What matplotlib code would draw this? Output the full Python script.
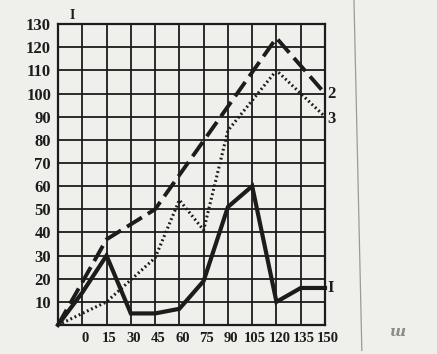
import matplotlib.pyplot as plt
import matplotlib.transforms as mtransforms
from matplotlib.lines import Line2D

# grid positions: first column is the origin, the printed labels start one column later
x_ticks = [-15, 0, 15, 30, 45, 60, 75, 90, 105, 120, 135, 150]
x_labels = ['', '0', '15', '30', '45', '60', '75', '90', '105', '120', '135', '150']
y_ticks = list(range(0, 140, 10))

# curve 1 (solid)
x1 = [-15, 0, 15, 30, 45, 60, 75, 90, 105, 120, 135, 150]
y1 = [0, 14, 30, 5, 5, 7, 19, 51, 60, 10, 16, 16]
# curve 2 (dashed)
x2 = [-15, 15, 45, 120, 150]
y2 = [0, 37, 50, 124, 100]
# curve 3 (dotted)
x3 = [-15, 15, 45, 60, 75, 90, 120, 150]
y3 = [0, 10, 29, 54, 41, 84, 110, 90]

ink = '#1c1c1c'
paper = '#efefec'

plt.rcParams['font.family'] = ['Liberation Serif', 'DejaVu Serif']
plt.rcParams['font.weight'] = 'bold'

fig = plt.figure(figsize=(4.37, 3.54), dpi=100, facecolor=paper)
ax = fig.add_axes([0.1327, 0.0819, 0.611, 0.850])
ax.set_facecolor(paper)

ax.set_xlim(-15, 150)
ax.set_ylim(0, 130)
ax.set_xticks(x_ticks)
ax.set_xticklabels(x_labels)
ax.set_yticks(y_ticks)
ax.set_yticklabels([''] + [str(v) for v in y_ticks[1:]])
ax.tick_params(length=0, labelsize=12, colors=ink, pad=5)
ax.tick_params(axis='x', labelsize=10.5)
ax.grid(True, color=ink, linewidth=1.3)
for s in ax.spines.values():
    s.set_color(ink)
    s.set_linewidth(1.6)

# printed labels sit a little to the right of their grid lines
shift = mtransforms.ScaledTranslation(3 / 100, 0, fig.dpi_scale_trans)
for lbl in ax.get_xticklabels():
    lbl.set_transform(lbl.get_transform() + shift)

ax.plot(x1, y1, color=ink, linewidth=3, solid_joinstyle='miter', clip_on=False)
ax.plot(x2, y2, color=ink, linewidth=2.8, dashes=(4.5, 1.8), clip_on=False)
ax.plot(x3, y3, color=ink, linewidth=2.2, linestyle=(0, (0.6, 0.9)), clip_on=False)

ax.text(151.5, 100, '2', fontsize=12, color=ink, va='center', ha='left')
ax.text(151.5, 89, '3', fontsize=12, color=ink, va='center', ha='left')
ax.text(151.5, 16, 'I', fontsize=12, color=ink, va='center', ha='left')
ax.text(-8, 131, 'I', fontsize=10, color=ink, va='bottom', ha='left')

# page edge and a stray pencil mark from the scan
fig.add_artist(Line2D([0.81, 0.828], [1.0, 0.01], transform=fig.transFigure,
                      color='#9a9a98', linewidth=0.9))
fig.text(0.89, 0.05, 'ш', fontsize=11, color='#8c8c8a', style='italic',
         family=['DejaVu Serif'])

fig.savefig('out.png', dpi=100, facecolor=paper)
